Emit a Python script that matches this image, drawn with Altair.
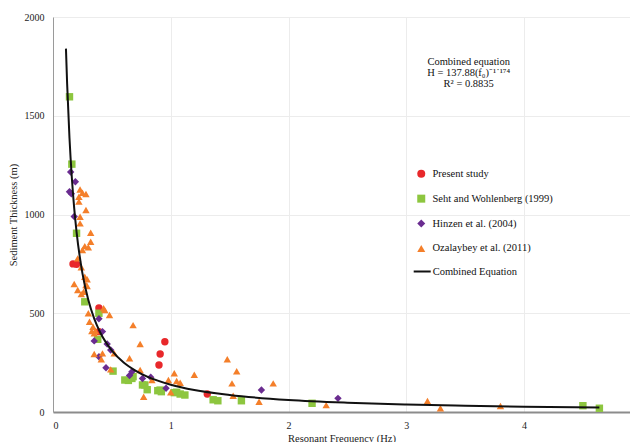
import altair as alt
import pandas as pd

# ---- data ----
present_f = [0.17, 0.20, 0.39, 0.39, 0.90, 0.91, 0.95, 1.31]
present_h = [750, 748, 527, 407, 238, 294, 356, 91]

seht_f = [0.14, 0.16, 0.20, 0.27, 0.39, 0.38, 0.51, 0.61, 0.64, 0.67, 0.68, 0.76, 0.78,
          0.80, 0.89, 0.91, 0.92, 1.03, 1.05, 1.08, 1.12, 1.36, 1.40, 1.60, 2.20, 4.50, 4.64]
seht_h = [1596, 1255, 905, 558, 500, 368, 207, 162, 160, 170, 179, 137, 137,
          113, 108, 111, 103, 98, 100, 91, 86, 62, 57, 57, 44, 32, 19]

hinzen_f = [0.15, 0.19, 0.14, 0.156, 0.18, 0.39, 0.42, 0.35, 0.46, 0.49, 0.39, 0.45,
            0.67, 0.65, 0.76, 0.83, 0.96, 1.77, 2.42]
hinzen_h = [1215, 1166, 1115, 1105, 990, 472, 407, 360, 344, 314, 280, 224,
            204, 185, 170, 176, 120, 111, 69]

ozal_f = [0.23, 0.25, 0.28, 0.22, 0.22, 0.28, 0.23, 0.23, 0.32, 0.32, 0.27, 0.30, 0.25,
          0.21, 0.24, 0.27, 0.29, 0.18, 0.28, 0.29, 0.21, 0.26, 0.24, 0.30, 0.31, 0.34,
          0.44, 0.48, 0.43, 0.33, 0.36, 0.35, 0.68, 0.74, 0.35, 0.42, 0.65, 0.52, 0.41,
          0.49, 0.74, 0.77, 0.84, 0.98, 1.03, 1.05, 1.08, 1.00, 1.20, 1.48, 1.56, 1.52,
          1.53, 1.87, 1.75, 2.32, 3.18, 3.29, 3.80]
ozal_h = [1127, 1110, 1104, 1090, 1065, 1023, 989, 955, 908, 862, 840, 834, 820,
          778, 733, 685, 672, 648, 643, 638, 618, 609, 597, 500, 457, 432,
          516, 491, 525, 410, 410, 398, 440, 344, 294, 297, 272, 297, 267,
          216, 213, 77, 162, 162, 196, 157, 148, 100, 189, 267, 206, 145,
          82, 145, 52, 35, 56, 19, 30]

# Combined equation curve
curve_f = [0.11, 0.12, 0.14, 0.16, 0.18, 0.20, 0.25, 0.30, 0.35, 0.40, 0.50, 0.60,
           0.70, 0.80, 1.0, 1.2, 1.5, 2.0, 2.5, 3.0, 3.5, 4.0, 4.64]
curve_h = [1840, 1662, 1387, 1186, 1032, 912, 702, 567, 473, 404, 311, 251,
           210, 179, 138, 111, 86, 61, 47, 38, 32, 27, 23]

series_names = ["Present study", "Seht and Wohlenberg (1999)",
                "Hinzen et al. (2004)", "Ozalaybey et al. (2011)"]
series_colors = ["#E8282B", "#8DC63F", "#6A2C90", "#F47F2A"]
series_shapes = ["circle", "square", "diamond", "triangle-up"]

x_ticks = [0, 1, 2, 3, 4]
y_ticks = [0, 500, 1000, 1500, 2000]

rows = []
for name, fs, hs in zip(series_names,
                        [present_f, seht_f, hinzen_f, ozal_f],
                        [present_h, seht_h, hinzen_h, ozal_h]):
    for f, h in zip(fs, hs):
        rows.append({"f": f, "h": h, "series": name})
pts = pd.DataFrame(rows)
curve = pd.DataFrame({"f": curve_f, "h": curve_h, "eq": "Combined Equation"})

FONT = "Liberation Serif"

xscale = alt.Scale(domain=[0, 4.9], nice=False, zero=True)
yscale = alt.Scale(domain=[0, 2000], nice=False)

xaxis = alt.Axis(values=x_ticks, title="Resonant Frequency (Hz)", grid=True,
                 gridColor="#ececec", ticks=False, domainColor="#8c8c8c",
                 domainWidth=2, labelPadding=8, titlePadding=3, format="d")
yaxis = alt.Axis(values=y_ticks, title="Sediment Thickness (m)", grid=True,
                 gridColor="#ececec", ticks=False, domainColor="#9a9a9a",
                 domainWidth=1, labelPadding=9, titlePadding=6, format="d")

pt_legend = alt.Legend(title=None, orient="none", legendX=363, legendY=151.5,
                       symbolSize=64, labelOffset=6, rowPadding=13.9, padding=0,
                       labelFont=FONT, labelFontSize=10.5, labelColor="#111",
                       symbolStrokeWidth=0, labelLimit=300)

points = alt.Chart(pts).mark_point(filled=True, opacity=1, size=55).encode(
    x=alt.X("f:Q", scale=xscale, axis=xaxis),
    y=alt.Y("h:Q", scale=yscale, axis=yaxis),
    color=alt.Color("series:N", scale=alt.Scale(domain=series_names, range=series_colors),
                    legend=pt_legend),
    shape=alt.Shape("series:N", scale=alt.Scale(domain=series_names, range=series_shapes),
                    legend=pt_legend),
)

line = alt.Chart(curve).mark_line(strokeWidth=2, interpolate="monotone").encode(
    x=alt.X("f:Q", scale=xscale),
    y=alt.Y("h:Q", scale=yscale),
    stroke=alt.Stroke("eq:N", scale=alt.Scale(domain=["Combined Equation"], range=["#111111"]),
                      legend=alt.Legend(title=None, orient="none", legendX=359.7, legendY=245,
                                        symbolSize=289, symbolStrokeWidth=2, labelOffset=1,
                                        padding=0, labelFont=FONT, labelFontSize=10.5,
                                        labelColor="#111", labelLimit=300)),
)

eq_text = alt.Chart(pd.DataFrame({"t": ["Combined equation\nH = 137.88(f\u2080)\u207b\u00b9\u02d9\u00b9\u2077\u2074\nR\u00b2 = 0.8835"]})).mark_text(
    font=FONT, fontSize=10.5, align="center", baseline="middle", lineBreak="\n",
    lineHeight=11, color="#111"
).encode(text="t:N", x=alt.value(415.7), y=alt.value(44.7))

chart = alt.layer(points, line, eq_text).properties(
    width=577, height=395,
    padding={"left": 45, "top": 9, "right": 0, "bottom": 30},
    autosize=alt.AutoSizeParams(type="none"),
).configure_axis(
    labelFont=FONT, titleFont=FONT, labelFontSize=10, titleFontSize=10.5,
    labelColor="#222", titleColor="#222", titleFontWeight="normal"
).configure_view(stroke=None)

chart.save("out.html", embed_options={"renderer": "svg", "actions": False})
